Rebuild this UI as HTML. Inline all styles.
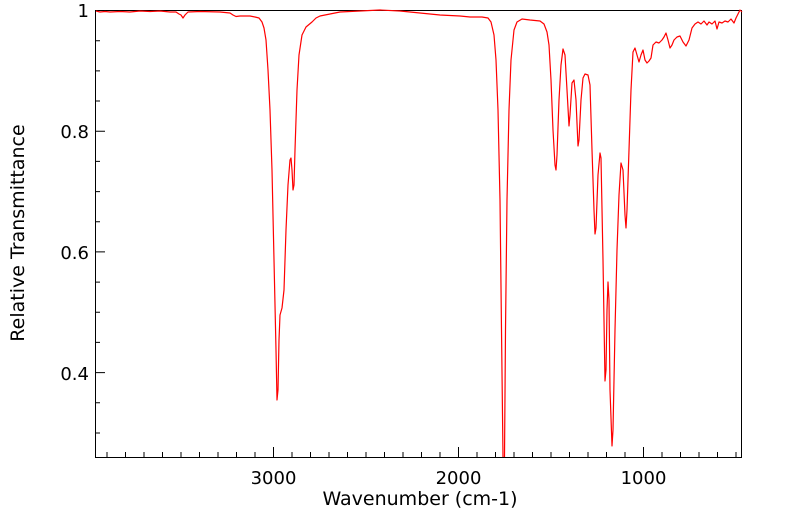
<!DOCTYPE html>
<html><head><meta charset="utf-8"><style>
html,body{margin:0;padding:0;background:#fff;}
svg{display:block;font-family:"DejaVu Sans","Liberation Sans",sans-serif;}
</style></head><body>
<svg width="799" height="516" viewBox="0 0 799 516" xmlns="http://www.w3.org/2000/svg">
<rect x="95.5" y="10.5" width="646" height="447" fill="none" stroke="#000" stroke-width="1"/>
<path stroke="#000" stroke-width="1" fill="none" d="
M107,457v-5 M125.5,457v-5 M144,457v-5 M162.5,457v-5 M181,457v-5 M199.5,457v-5 M218,457v-5 M236.5,457v-5 M255,457v-5 M273.5,457v-10 M292,457v-5 M310.5,457v-5 M329,457v-5 M347.5,457v-5 M366,457v-5 M384.5,457v-5 M403,457v-5 M421.5,457v-5 M440,457v-5 M458.5,457v-10 M477,457v-5 M495.5,457v-5 M514,457v-5 M532.5,457v-5 M551,457v-5 M569.5,457v-5 M588,457v-5 M606.5,457v-5 M625,457v-5 M643.5,457v-10 M662,457v-5 M680.5,457v-5 M699,457v-5 M717.5,457v-5 M736,457v-5
M95,40.7h5 M95,70.9h5 M95,101h5 M95,131.2h10 M95,161.4h5 M95,191.6h5 M95,221.7h5 M95,251.9h10 M95,282.1h5 M95,312.3h5 M95,342.4h5 M95,372.6h10 M95,402.8h5 M95,433h5"/>
<g font-size="18" fill="#000">
<text x="273.5" y="484" text-anchor="middle">3000</text>
<text x="458.5" y="484" text-anchor="middle">2000</text>
<text x="643.5" y="484" text-anchor="middle">1000</text>
<text x="420" y="505" text-anchor="middle" font-size="19">Wavenumber (cm-1)</text>
<text x="89" y="17" text-anchor="end">1</text>
<text x="89" y="138" text-anchor="end">0.8</text>
<text x="89" y="259" text-anchor="end">0.6</text>
<text x="89" y="380" text-anchor="end">0.4</text>
<text transform="translate(24,233) rotate(-90)" text-anchor="middle" font-size="19">Relative Transmittance</text>
</g>
<path fill="none" stroke="#f00" stroke-width="1.2" stroke-linejoin="round" d="
M96,11 L100,12 105,11.5 110,12 120,11.5 130,12 140,11 150,11.5 160,11 170,12 176,12 179,14 181,15 183,18 185,15 188,12 200,11.5 220,12 230,13 233,15 236,16.5 240,16 250,16 255,17 259,18 262,22 264,28 266,40 268,70 270,110 272,170 274,260 276,350 277,400 278,390 279,340 280,315 282,308 284,290 286,230 288,185 290,160 291,158 292,170 293,190 294,185 295,150 297,90 299,55 302,35 306,27 312,22 316,18 320,16 330,14 340,12 360,11 380,10 400,11 420,13 440,15 460,16 470,17 482,17 488,18 491,22 494,35 496,60 498,110 500,200 501.5,330 503,457 M504.5,457 L505.5,330 507,200 509,110 511,60 514,30 517,22 522,19 530,20 540,21 544,24 547,32 549,45 551,80 553,130 555,165 556,170 557,155 559,100 561,65 563,49 565,55 567,90 569,126 570,115 572,83 574,80 576,100 578,146 579,140 581,100 583,78 585,74 588,75 590,85 592,150 594,210 595,234 596,228 598,175 600,153 601,158 603,260 605,381 606,370 607,310 608,282 609,300 610,390 612,446 613,430 615,330 617,250 619,195 621,163 623,170 625,215 626,228 627,210 629,150 631,90 633,52 635,48 637,55 639,62 641,55 643,50 645,60 647,63 649,61 651,58 653,45 656,42 659,43 662,40 664,37 666,33 668,40 670,48 672,45 674,40 677,37 680,36 683,42 686,46 689,40 692,28 695,24 698,22 701,24 704,21 707,25 709,22 712,24 715,21 717,29 719,22 722,23 725,21 728,22 731,19 734,23 736,18 738,14 740,10 742,12"/>
</svg>
</body></html>
